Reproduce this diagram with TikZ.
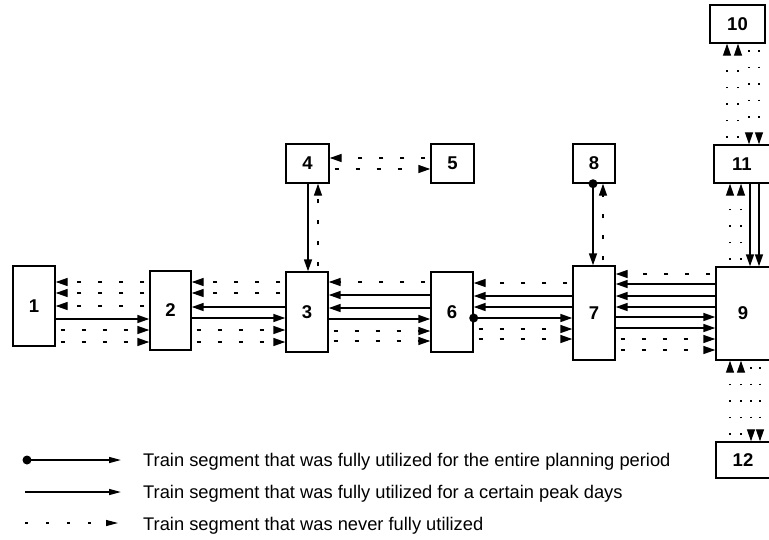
\documentclass[tikz,border=0pt]{standalone}
\usepackage{fontspec}
\setmainfont{Liberation Sans}
\usetikzlibrary{arrows.meta}
\begin{document}
\begin{tikzpicture}[x=1pt,y=-1pt,
  >={Triangle[length=12pt,width=8pt]},
  box/.style={draw,line width=1.4pt,inner sep=0pt,font=\bfseries\fontsize{18.5}{20}\selectfont},
  sol/.style={line width=1.6pt,->},
  dsh/.style={line width=1.4pt,dash pattern=on 4pt off 17pt,dash phase=16pt,->},
  dts/.style={line width=1.2pt,dash pattern=on 1.5pt off 15pt,dash phase=10pt,->},
  lgd/.style={anchor=base west,inner sep=0pt,font=\fontsize{18.3}{20}\selectfont}]
\useasboundingbox (0,0) rectangle (769,539);
\clip (0,0) rectangle (769,539);
% boxes
\node[box,minimum width=42pt,minimum height=80pt] (b1) at (34,306) {1};
\node[box,minimum width=41pt,minimum height=79pt] (b2) at (170.5,310.5) {2};
\node[box,minimum width=42pt,minimum height=80pt] (b3) at (307,312) {3};
\node[box,minimum width=43pt,minimum height=39pt] (b4) at (307.5,163.5) {4};
\node[box,minimum width=43pt,minimum height=39pt] (b5) at (452.5,163.5) {5};
\node[box,minimum width=42pt,minimum height=80pt] (b6) at (452,312) {6};
\node[box,minimum width=42pt,minimum height=94pt] (b7) at (594,313) {7};
\node[box,minimum width=42pt,minimum height=39pt] (b8) at (594,163.5) {8};
\node[box,minimum width=54pt,minimum height=93pt] (b9) at (743,313.5) {9};
\node[box,minimum width=55pt,minimum height=38pt] (b10) at (737.5,24) {10};
\node[box,minimum width=56pt,minimum height=38pt] (b11) at (742,164) {11};
\node[box,minimum width=54pt,minimum height=36pt] (b12) at (743,460) {12};
% 1-2
\foreach \y/\s in {282/dsh,293/dsh,306/dsh} \draw[\s] (b2.west |- 0,\y) -- (b1.east |- 0,\y);
\foreach \y/\s in {319/sol,330/dsh,342/dsh} \draw[\s] (b1.east |- 0,\y) -- (b2.west |- 0,\y);
% 2-3
\foreach \y/\s in {282/dsh,293/dsh,307/sol} \draw[\s] (b3.west |- 0,\y) -- (b2.east |- 0,\y);
\foreach \y/\s in {318/sol,330/dsh,342/dsh} \draw[\s] (b2.east |- 0,\y) -- (b3.west |- 0,\y);
% 3-6
\foreach \y/\s in {282/dsh,295/sol,308/sol} \draw[\s] (b6.west |- 0,\y) -- (b3.east |- 0,\y);
\foreach \y/\s in {319/sol,331/dsh,341/dsh} \draw[\s] (b3.east |- 0,\y) -- (b6.west |- 0,\y);
% 6-7
\foreach \y/\s in {283/dsh,296/sol,307/sol} \draw[\s] (b7.west |- 0,\y) -- (b6.east |- 0,\y);
\foreach \y/\s in {318/sol,329/dsh,339/dsh} \draw[\s] (b6.east |- 0,\y) -- (b7.west |- 0,\y);
\fill (b6.east |- 0,318) circle (4.5pt);
% 7-9
\foreach \y/\s in {274/dsh,284/sol,296/sol,307/sol} \draw[\s] (b9.west |- 0,\y) -- (b7.east |- 0,\y);
\foreach \y/\s in {317/sol,328/sol,339/dsh,350/dsh} \draw[\s] (b7.east |- 0,\y) -- (b9.west |- 0,\y);
% 4-3, 4-5
\draw[sol] (b4.south -| 308,0) -- (b3.north -| 308,0);
\draw[dsh] (b3.north -| 318,0) -- (b4.south -| 318,0);
\draw[dsh] (b5.west |- 0,158) -- (b4.east |- 0,158);
\draw[dsh] (b4.east |- 0,169) -- (b5.west |- 0,169);
% 8-7
\draw[sol] (b8.south -| 593,0) -- (b7.north -| 593,0);
\fill (b8.south -| 593,0) circle (4.5pt);
\draw[dsh] (b7.north -| 603,0) -- (b8.south -| 603,0);
% 10-11
\foreach \x in {727,738} \draw[dts] (b11.north -| \x,0) -- (b10.south -| \x,0);
\foreach \x in {749,759} \draw[dts] (b10.south -| \x,0) -- (b11.north -| \x,0);
% 11-9
\foreach \x in {730,741} \draw[dts] (b9.north -| \x,0) -- (b11.south -| \x,0);
\foreach \x in {750,759} \draw[sol] (b11.south -| \x,0) -- (b9.north -| \x,0);
% 9-12
\foreach \x in {730,741} \draw[dts] (b12.north -| \x,0) -- (b9.south -| \x,0);
\foreach \x in {751,760} \draw[dts] (b9.south -| \x,0) -- (b12.north -| \x,0);
% legend
\coordinate (l1a) at (27,460); \coordinate (l1b) at (121,460);
\coordinate (l2a) at (25,492); \coordinate (l2b) at (121,492);
\coordinate (l3a) at (25,523); \coordinate (l3b) at (118,523);
\draw[sol,line width=1.4pt,-{Triangle[length=12pt,width=6pt]}] (l1a) -- (l1b);
\fill (l1a) circle (4.5pt);
\draw[sol,line width=1.4pt,-{Triangle[length=12pt,width=6pt]}] (l2a) -- (l2b);
\draw[dsh,line width=1.2pt,dash pattern=on 3pt off 18pt,dash phase=0pt,-{Triangle[length=12pt,width=6pt]}] (l3a) -- (l3b);
\node[lgd] (t1) at (143,466) {Train segment that was fully utilized for the entire planning period};
\node[lgd] (t2) at (143,498) {Train segment that was fully utilized for a certain peak days};
\node[lgd] (t3) at (143,530) {Train segment that was never fully utilized};
\end{tikzpicture}
\end{document}
